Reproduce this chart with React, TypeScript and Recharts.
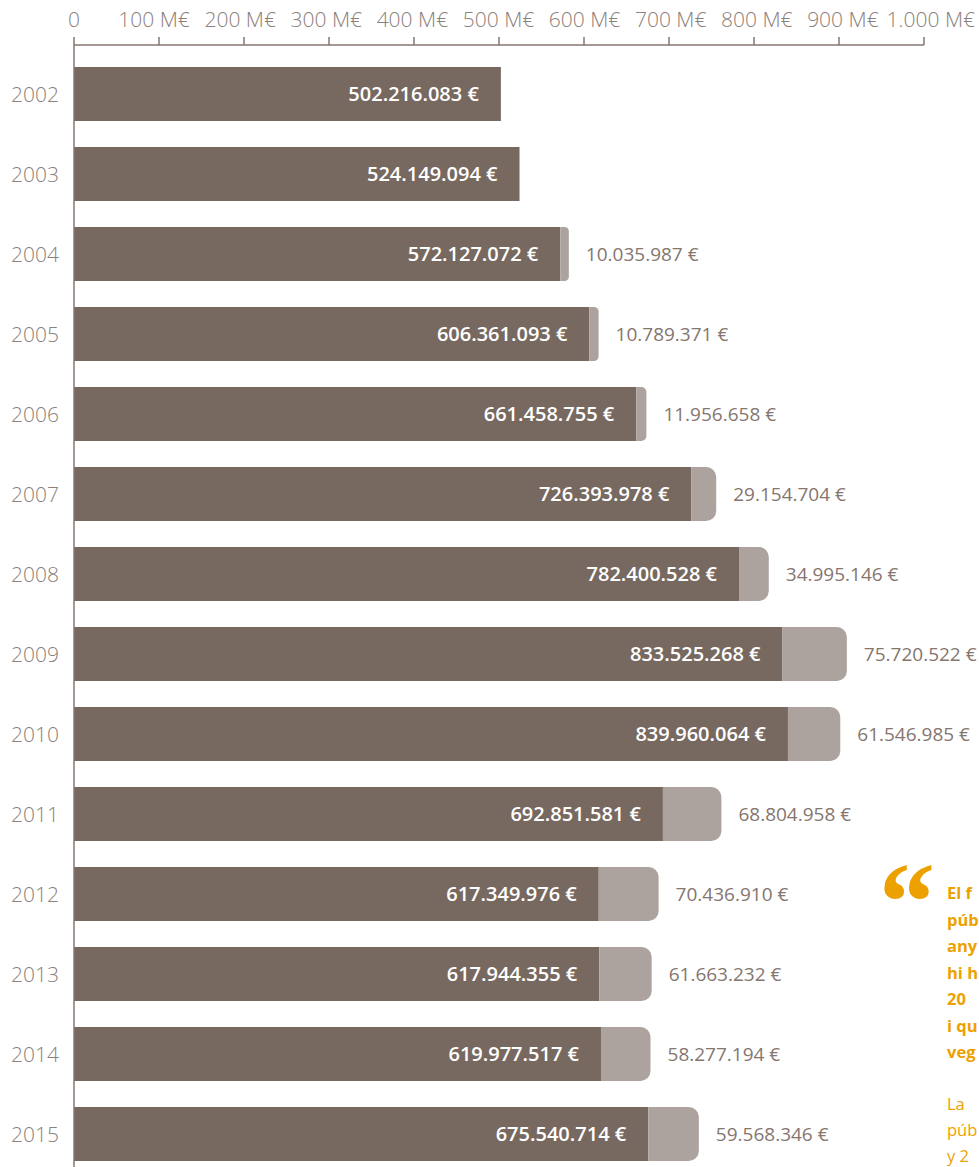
import { Bar, BarChart, LabelList, XAxis, YAxis } from "recharts";

const years = ["2002", "2003", "2004", "2005", "2006", "2007", "2008", "2009", "2010", "2011", "2012", "2013", "2014", "2015"];
const baseFunding = [502216083, 524149094, 572127072, 606361093, 661458755, 726393978, 782400528, 833525268, 839960064, 692851581, 617349976, 617944355, 619977517, 675540714];
const extraFunding = [0, 0, 10035987, 10789371, 11956658, 29154704, 34995146, 75720522, 61546985, 68804958, 70436910, 61663232, 58277194, 59568346];
const axisTicks = [0, 100, 200, 300, 400, 500, 600, 700, 800, 900, 1000];
// quote text, only the part visible at the right edge
const quoteBold = ["El f", "púb", "any", "hi h", "20", "i qu", "veg"];
const quoteNormal = ["La", "púb", "y 2"];

const data = years.map((y, i) => ({
  year: y,
  base: baseFunding[i] / 1e6,
  extra: extraFunding[i] / 1e6,
  baseRaw: baseFunding[i],
  extraRaw: extraFunding[i],
}));

const DARK = "#786960";
const LIGHT = "#aca39f";
const GREY = "#85766f";
const AXIS_TEXT = "#8c807a";
const ORANGE = "#eda100";
const FONT = "'Open Sans', sans-serif";

const fmt = (n: number) => String(n).replace(/\B(?=(\d{3})+(?!\d))/g, ".") + " €";

const TopTick = (props: any) => {
  const { x, payload } = props;
  const v = payload.value;
  if (v === 0) {
    return (
      <text x={x} y={27} textAnchor="middle" fill={AXIS_TEXT} fontSize={21} fontFamily={FONT} fontWeight={300}>
        0
      </text>
    );
  }
  if (v >= 1000) {
    return (
      <text x={975} y={27} textAnchor="end" fill={AXIS_TEXT} fontSize={21} fontFamily={FONT} fontWeight={300}>
        1.000 M€
      </text>
    );
  }
  // labels drift a little against their ticks in the original
  const shift = -6 + (v / 100) * 1.1;
  return (
    <text x={x + shift} y={27} textAnchor="middle" fill={AXIS_TEXT} fontSize={21} fontFamily={FONT} fontWeight={300}>
      {v + " M€"}
    </text>
  );
};

const YearTick = (props: any) => {
  const { y, payload } = props;
  return (
    <text x={35} y={y + 7.5} textAnchor="middle" fill={AXIS_TEXT} fontSize={21} fontFamily={FONT} fontWeight={300}>
      {payload.value}
    </text>
  );
};

const BaseLabel = (props: any) => {
  const { x, y, width, height, value } = props;
  return (
    <text x={x + width - 22} y={y + height / 2 + 7} textAnchor="end" fill="#ffffff" fontSize={20} fontWeight={600} fontFamily={FONT}>
      {fmt(value)}
    </text>
  );
};

const ExtraLabel = (props: any) => {
  const { x, y, width, height, value } = props;
  if (!value) return null;
  return (
    <text x={x + width + 17} y={y + height / 2 + 7} textAnchor="start" fill={GREY} fontSize={19} fontFamily={FONT}>
      {fmt(value)}
    </text>
  );
};

export default function App() {
  return (
    <div style={{ position: "absolute", left: 0, top: 0, width: 979, height: 1167, overflow: "hidden", background: "#fff" }}>
      <BarChart
        width={979}
        height={1174}
        data={data}
        layout="vertical"
        margin={{ top: 0, right: 55, bottom: 0, left: 0 }}
        barSize={54}
      >
        <XAxis
          type="number"
          orientation="top"
          domain={[0, 1000]}
          ticks={axisTicks}
          height={45}
          tick={<TopTick />}
          tickSize={8}
          tickLine={{ stroke: GREY, strokeWidth: 1.5 }}
          axisLine={{ stroke: GREY, strokeWidth: 1.5 }}
          interval={0}
        />
        <YAxis
          type="category"
          dataKey="year"
          width={74}
          padding={{ top: 9, bottom: 0 }}
          tick={<YearTick />}
          tickLine={false}
          axisLine={{ stroke: GREY, strokeWidth: 1.5 }}
          interval={0}
        />
        <Bar dataKey="base" stackId="a" fill={DARK} isAnimationActive={false}>
          <LabelList dataKey="baseRaw" content={<BaseLabel />} />
        </Bar>
        <Bar dataKey="extra" stackId="a" fill={LIGHT} radius={[0, 10, 10, 0]} isAnimationActive={false}>
          <LabelList dataKey="extraRaw" content={<ExtraLabel />} />
        </Bar>
      </BarChart>
      <div style={{ position: "absolute", left: 879, top: 846, fontFamily: "'Liberation Serif', serif", fontWeight: 700, fontSize: 112, lineHeight: "112px", color: ORANGE }}>
        “
      </div>
      <div style={{ position: "absolute", left: 947, top: 880, fontFamily: FONT, color: ORANGE, fontSize: 16.5, whiteSpace: "nowrap" }}>
        <div style={{ fontWeight: 700, lineHeight: "26.5px" }}>
          {quoteBold.map((t) => (
            <div key={t}>{t}</div>
          ))}
        </div>
        <div style={{ marginTop: 25, lineHeight: "26px", fontWeight: 400 }}>
          {quoteNormal.map((t) => (
            <div key={t}>{t}</div>
          ))}
        </div>
      </div>
    </div>
  );
}
